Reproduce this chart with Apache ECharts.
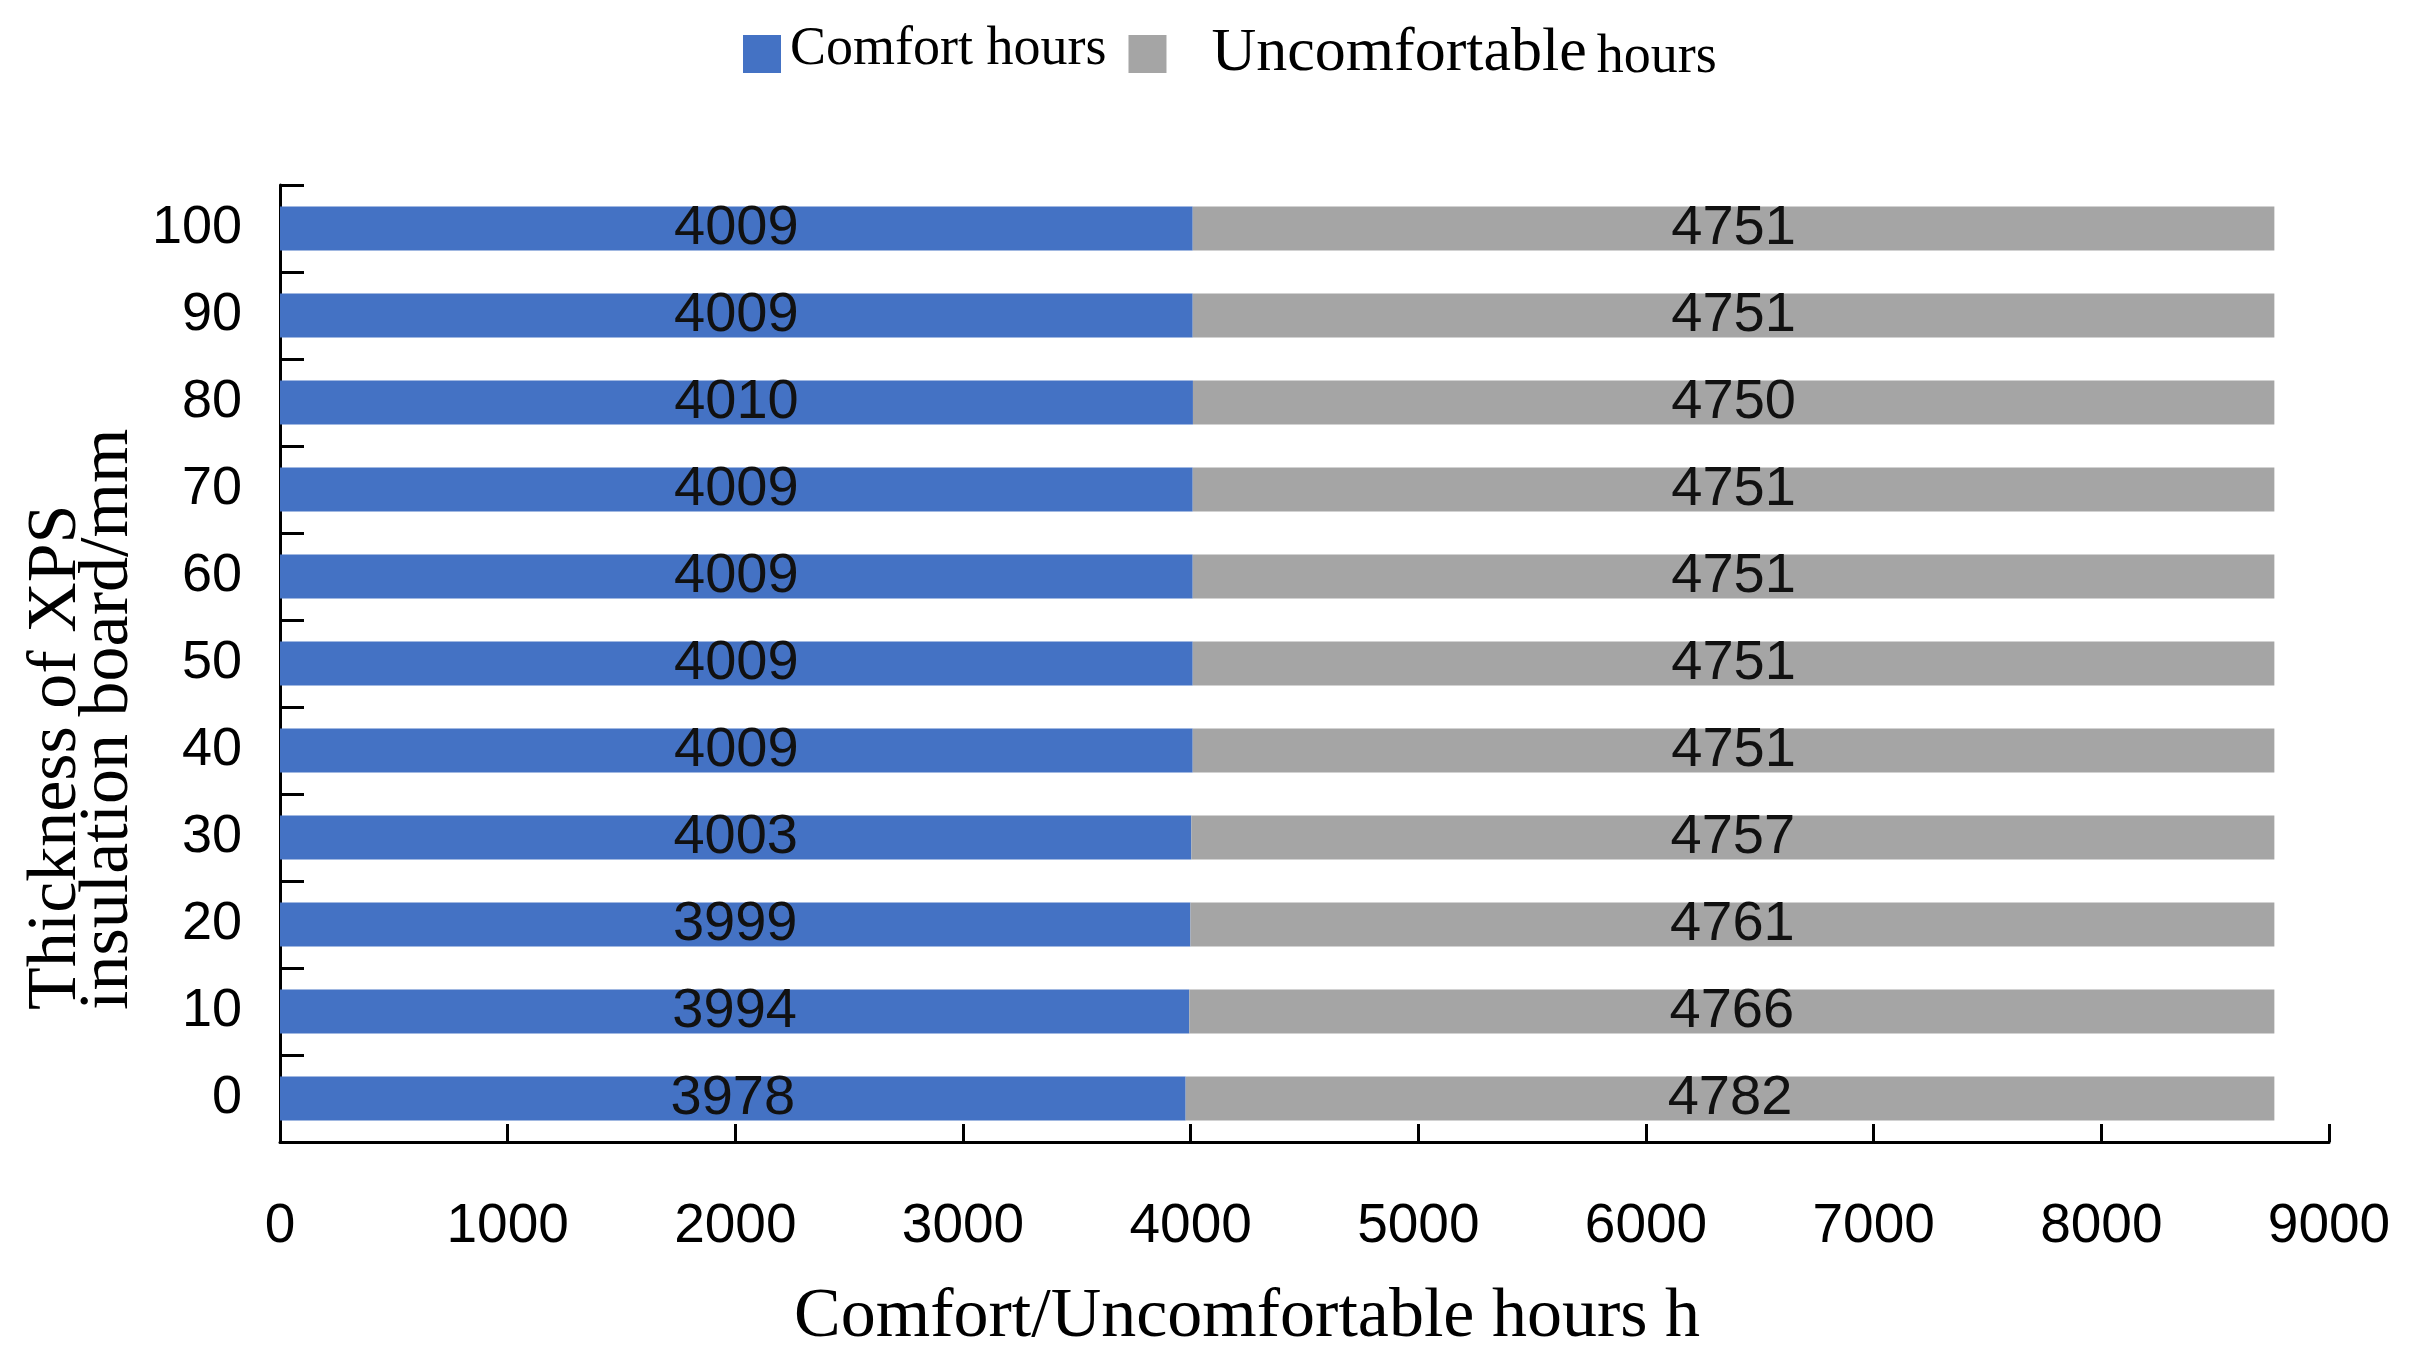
<!DOCTYPE html>
<html>
<head>
<meta charset="utf-8">
<script src="https://cdn.jsdelivr.net/npm/echarts@6/dist/echarts.min.js"></script>
<style>
html,body{margin:0;padding:0;background:#fff;}
#chart{width:2414px;height:1368px;}
</style>
</head>
<body>
<div id="chart"></div>
<script>
const categories = ['0','10','20','30','40','50','60','70','80','90','100'];
const comfortHours = [3978,3994,3999,4003,4009,4009,4009,4009,4010,4009,4009];
const uncomfortableHours = [4782,4766,4761,4757,4751,4751,4751,4751,4750,4751,4751];
const seriesNames = ['Comfort hours','Uncomfortable hours'];
const xAxisTitle = 'Comfort/Uncomfortable hours h';
const yAxisTitle = 'Thickness of XPS\ninsulation board/mm';

const SERIF = '"Liberation Serif", "Times New Roman", serif';
const SANS = '"Liberation Sans", Arial, sans-serif';

const chart = echarts.init(document.getElementById('chart'), null, {renderer:'canvas'});
const labelCfg = {
  show: true, position: 'inside', color: '#111', fontFamily: SANS, fontSize: 56
};
chart.setOption({
  animation: false,
  backgroundColor: '#fff',
  grid: {left: 280, right: 85, top: 185, bottom: 226, containLabel: false},
  legend: {
    left: 738, top: 18, icon: 'rect', itemWidth: 38, itemHeight: 38, itemGap: 22,
    data: seriesNames,
    formatter: function(name){
      return name === seriesNames[1] ? '{a|Uncomfortable}{b|hours}' : '{c|Comfort hours}';
    },
    textStyle: {
      fontFamily: SERIF, color: '#000',
      rich: {
        a: {fontFamily: SERIF, fontSize: 62, color: '#000', padding: [0,0,0,40], verticalAlign: 'bottom'},
        b: {fontFamily: SERIF, fontSize: 54, color: '#000', padding: [0,0,0,10], verticalAlign: 'bottom'},
        c: {fontFamily: SERIF, fontSize: 54, color: '#000', padding: [0,0,8,4], verticalAlign: 'bottom'}
      }
    }
  },
  xAxis: {
    type: 'value', min: 0, max: 9000, interval: 1000,
    axisLine: {show: true, lineStyle: {color: '#000', width: 3}},
    axisTick: {show: true, inside: true, length: 18, lineStyle: {color: '#000', width: 3}},
    splitLine: {show: false},
    axisLabel: {color: '#000', fontFamily: SANS, fontSize: 55, margin: 57,
      formatter: function(v){ return String(v); }}
  },
  yAxis: {
    type: 'category', data: categories,
    axisLine: {show: true, lineStyle: {color: '#000', width: 3}},
    axisTick: {show: true, inside: true, length: 24, lineStyle: {color: '#000', width: 3}},
    axisLabel: {color: '#000', fontFamily: SANS, fontSize: 54, margin: 38}
  },
  series: [
    {name: seriesNames[0], type: 'bar', stack: 'total', data: comfortHours, barWidth: 44,
     itemStyle: {color: '#4472C4'}, label: labelCfg},
    {name: seriesNames[1], type: 'bar', stack: 'total', data: uncomfortableHours, barWidth: 44,
     itemStyle: {color: '#A5A5A5'}, label: labelCfg}
  ],
  graphic: [
    {type: 'text', x: 1247, y: 1318, style: {text: xAxisTitle, fontFamily: SERIF, fontSize: 70, fill: '#000', align: 'center', verticalAlign: 'middle'}},
    {type: 'text', x: 83, y: 1010, rotation: Math.PI/2, style: {text: yAxisTitle, fontFamily: SERIF, fontSize: 70, lineHeight: 52, fill: '#000', align: 'left', verticalAlign: 'middle'}}
  ]
});
</script>
</body>
</html>
